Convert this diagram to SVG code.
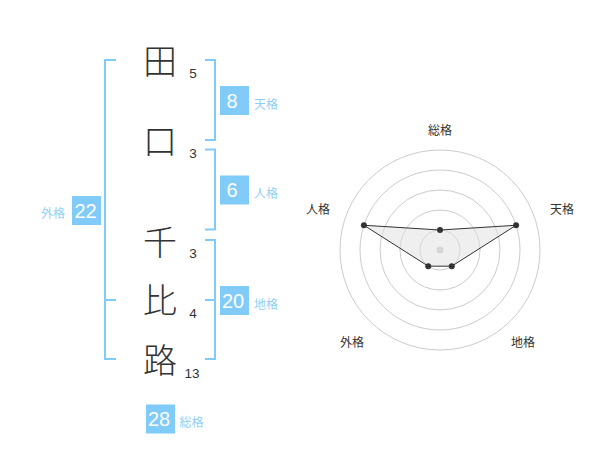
<svg xmlns="http://www.w3.org/2000/svg" width="600" height="470" viewBox="0 0 600 470">
<style>
.kanji{font-family:"Noto Sans CJK JP","Noto Sans CJK SC",sans-serif;font-size:34px;font-weight:300;fill:#333;text-anchor:middle}
.stroke{font-family:"Liberation Sans",Arial,sans-serif;font-size:13.5px;fill:#333;text-anchor:middle}
.box{fill:#80cbf8}
.num{font-family:"Liberation Sans",Arial,sans-serif;font-size:20px;fill:#fff;text-anchor:middle}
.lbl{font-family:"Noto Sans CJK JP","Noto Sans CJK SC",sans-serif;font-size:12px;fill:#90d0f5}
.br{fill:none;stroke:#80cbf8;stroke-width:2}
.ring{fill:none;stroke:#cccccc;stroke-width:1}
.axis{font-family:"Noto Sans CJK JP","Noto Sans CJK SC",sans-serif;font-size:12px;fill:#333;text-anchor:middle}
</style>
<rect width="600" height="470" fill="#fff"/>
<g id="connectors">
<path class="br" d="M116,60 H105 V359 H116 M105,300 H116"/>
<path class="br" d="M205,60 H215 V140 H205"/>
<path class="br" d="M205,149.5 H215 V229.5 H205"/>
<path class="br" d="M205,240 H215 V359 H205 M205,300 H215"/>
</g>
<g id="char-1"><text class="kanji" x="160" y="74">田</text><text class="stroke" x="193" y="77.5">5</text></g>
<g id="char-2"><text class="kanji" x="160" y="154">口</text><text class="stroke" x="193" y="158">3</text></g>
<g id="char-3"><text class="kanji" x="160" y="255">千</text><text class="stroke" x="193" y="257.5">3</text></g>
<g id="char-4"><text class="kanji" x="160" y="313">比</text><text class="stroke" x="193" y="318">4</text></g>
<g id="char-5"><text class="kanji" x="160" y="373">路</text><text class="stroke" x="192" y="378">13</text></g>
<g id="tenkaku"><rect class="box" x="220" y="86" width="29" height="29"/><text class="num" x="232" y="107.5">8</text><text class="lbl" x="254" y="108.5">天格</text></g>
<g id="jinkaku"><rect class="box" x="220" y="175.5" width="29" height="29"/><text class="num" x="232" y="197">6</text><text class="lbl" x="254" y="198">人格</text></g>
<g id="chikaku"><rect class="box" x="220" y="286" width="29" height="29"/><text class="num" x="233" y="307.5">20</text><text class="lbl" x="254" y="308.5">地格</text></g>
<g id="gaikaku"><rect class="box" x="72" y="196" width="29" height="29"/><text class="num" x="85.5" y="217.5">22</text><text class="lbl" x="41" y="218">外格</text></g>
<g id="soukaku"><rect class="box" x="146" y="404.5" width="29" height="29"/><text class="num" x="159" y="426">28</text><text class="lbl" x="179.5" y="426.5">総格</text></g>
<g id="radar">
<circle class="ring" cx="440" cy="250" r="20"/>
<circle class="ring" cx="440" cy="250" r="40"/>
<circle class="ring" cx="440" cy="250" r="60"/>
<circle class="ring" cx="440" cy="250" r="80"/>
<circle class="ring" cx="440" cy="250" r="100"/>
<circle cx="440" cy="250" r="3.5" fill="#cccccc"/>
<polygon points="440,230 516.08,225.28 451.76,266.18 428.24,266.18 363.92,225.28" fill="#e0e0e0" fill-opacity="0.5" stroke="#333" stroke-width="1"/>
<g fill="#333">
<circle cx="440" cy="230" r="3"/>
<circle cx="516.08" cy="225.28" r="3"/>
<circle cx="451.76" cy="266.18" r="3"/>
<circle cx="428.24" cy="266.18" r="3"/>
<circle cx="363.92" cy="225.28" r="3"/>
</g>
<text class="axis" x="440" y="135">総格</text>
<text class="axis" x="562" y="213.5">天格</text>
<text class="axis" x="318" y="213.5">人格</text>
<text class="axis" x="352" y="346.5">外格</text>
<text class="axis" x="523" y="346.5">地格</text>
</g>
</svg>
